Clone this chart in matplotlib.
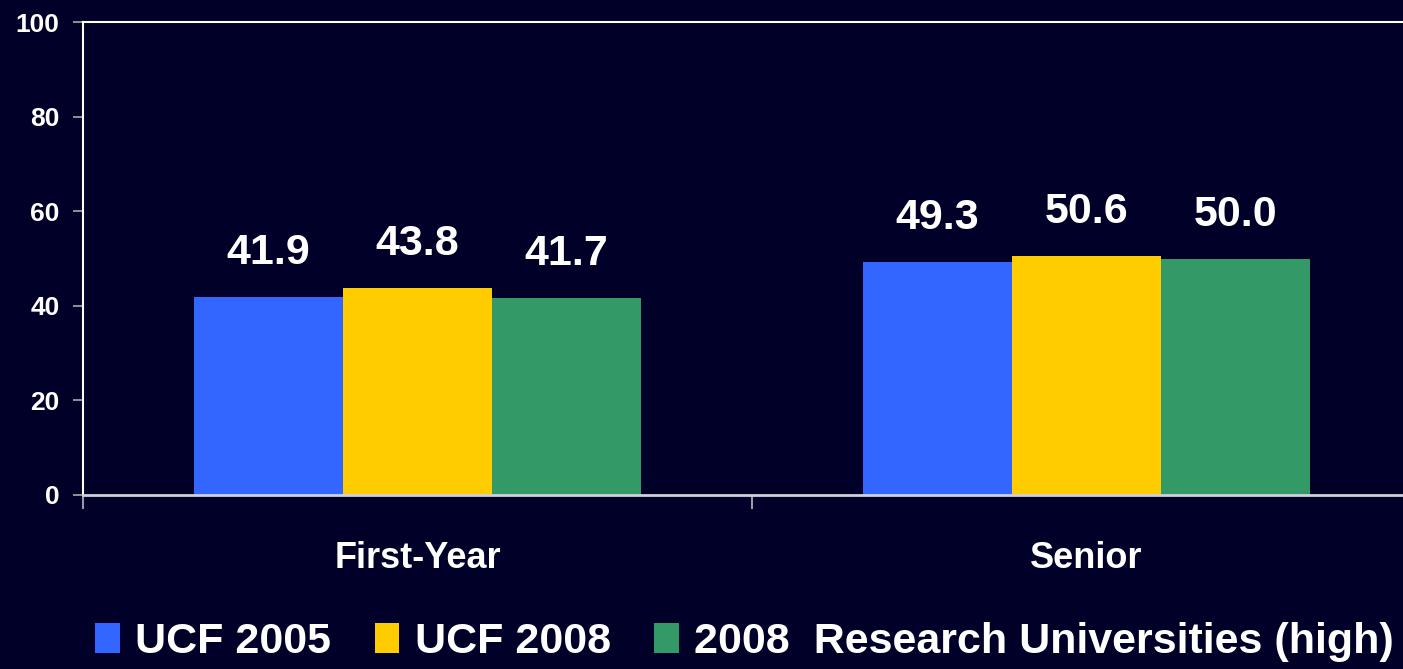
import matplotlib
matplotlib.use("Agg")
import matplotlib.pyplot as plt
from matplotlib.patches import Patch
import numpy as np

categories = ["First-Year", "Senior"]
series_names = ["UCF 2005", "UCF 2008", "2008  Research Universities (high)"]
ucf_2005 = [41.9, 49.3]
ucf_2008 = [43.8, 50.6]
research_2008 = [41.7, 50.0]
yticks = [0, 20, 40, 60, 80, 100]

BG = "#000028"
COLORS = ["#3366FF", "#FFCC00", "#339966"]
plt.rcParams["font.family"] = ["Liberation Sans", "DejaVu Sans"]
plt.rcParams["font.weight"] = "bold"

fig = plt.figure(figsize=(14.03, 6.69), dpi=100, facecolor=BG)
ax = fig.add_axes([83 / 1403, 174 / 669, 1338 / 1403, 473 / 669], facecolor=BG)

x = np.arange(len(categories))
w = 0.223
for i, (vals, col) in enumerate(zip([ucf_2005, ucf_2008, research_2008], COLORS)):
    xs = x + (i - 1) * w
    ax.bar(xs, vals, width=w, color=col, edgecolor="none", zorder=2)
    for xi, v in zip(xs, vals):
        ax.text(xi, v + 5, f"{v:.1f}", ha="center", va="bottom",
                color="white", fontsize=31, fontweight="bold")

ax.set_xlim(-0.5, 1.5)
ax.set_ylim(0, 100)
ax.set_yticks(yticks)
ax.set_yticklabels([str(t) for t in yticks], color="white", fontsize=19, fontweight="bold")
ax.tick_params(axis="y", direction="out", length=7, width=1.2, color="#aaaaaa", pad=10)

ax.set_xticks(x)
ax.set_xticklabels(categories, color="white", fontsize=26, fontweight="bold")
ax.tick_params(axis="x", which="major", length=0, pad=33)
ax.set_xticks([-0.5, 0.5, 1.5], minor=True)
ax.tick_params(axis="x", which="minor", direction="out", length=10, width=1.5, color="#9999aa")

for side in ["left", "top"]:
    ax.spines[side].set_color("white")
    ax.spines[side].set_linewidth(1.5)
ax.spines["bottom"].set_color("#d0d0dd")
ax.spines["bottom"].set_linewidth(2)
ax.spines["right"].set_visible(False)

handles = [Patch(facecolor=c, edgecolor="none") for c in COLORS]
leg = fig.legend(handles, series_names, loc="center left", bbox_to_anchor=(0.068, 0.04),
                 ncol=3, frameon=False, fontsize=31, handlelength=0.58, handleheight=0.7,
                 handletextpad=0.35, columnspacing=1.0, borderpad=0, borderaxespad=0)
for t in leg.get_texts():
    t.set_color("white")
    t.set_fontweight("bold")

fig.savefig("out.png", dpi=100, facecolor=BG)
